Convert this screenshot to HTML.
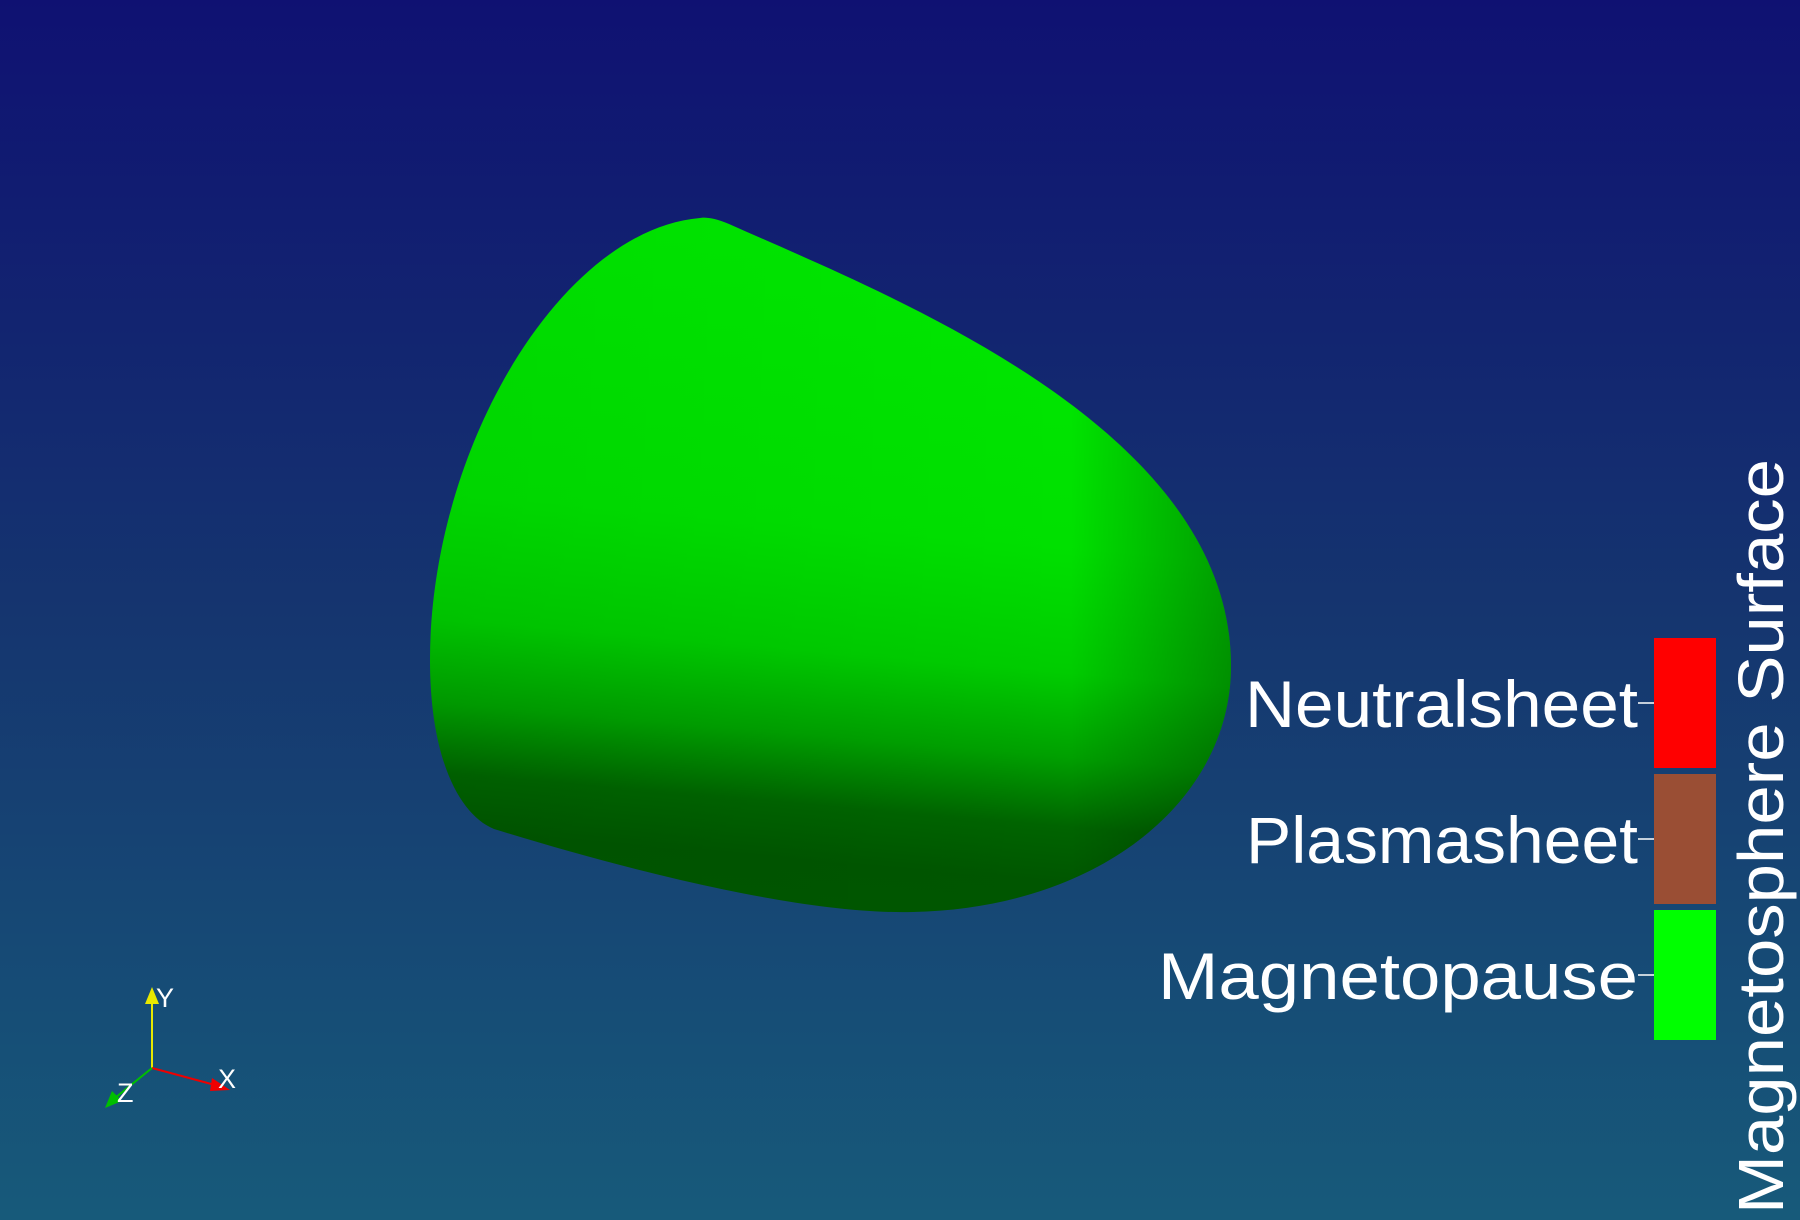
<!DOCTYPE html>
<html><head><meta charset="utf-8"><style>
html,body{margin:0;padding:0;width:1800px;height:1220px;overflow:hidden}
</style></head><body>
<svg id="chart" width="1800" height="1220" viewBox="0 0 1800 1220" xmlns="http://www.w3.org/2000/svg" font-family="Liberation Sans, sans-serif">
<defs>
<linearGradient id="bg" x1="0" y1="0" x2="0" y2="1">
<stop offset="0" stop-color="#0f1172"/><stop offset="0.5" stop-color="#15356f"/><stop offset="1" stop-color="#175a7a"/>
</linearGradient>
<linearGradient id="body" x1="0.1" y1="0" x2="0" y2="1">
<stop offset="0" stop-color="#00e800"/><stop offset="0.4" stop-color="#00e000"/><stop offset="0.58" stop-color="#00cc00"/><stop offset="0.7" stop-color="#00a000"/><stop offset="0.8" stop-color="#006400"/><stop offset="0.88" stop-color="#005600"/><stop offset="1" stop-color="#005800"/>
</linearGradient>
<linearGradient id="edge" x1="0" y1="0" x2="1" y2="0">
<stop offset="0" stop-color="#000" stop-opacity="0.05"/><stop offset="0.8" stop-color="#000" stop-opacity="0"/><stop offset="1" stop-color="#000" stop-opacity="0.3"/>
</linearGradient>
</defs>
<rect width="1800" height="1220" fill="url(#bg)"/>
<g>
<path d="M700 218 C560 230 430 450 430 660 C430 760 460 815 494 829 C620 868 800 915 913 912 C1100 908 1231 800 1231 666 C1231 430 900 300 729 224 C715 218 705 217 700 218 Z" fill="url(#body)"/>
<path d="M700 218 C560 230 430 450 430 660 C430 760 460 815 494 829 C620 868 800 915 913 912 C1100 908 1231 800 1231 666 C1231 430 900 300 729 224 C715 218 705 217 700 218 Z" fill="url(#edge)"/>
</g>
<g id="legend"></g>
<text transform="translate(1783,1214) rotate(-90)" font-size="64" fill="#fff" textLength="755" lengthAdjust="spacingAndGlyphs">Magnetosphere Surface</text>
<g>
<line x1="152" y1="1068" x2="152" y2="1000" stroke="#e8e800" stroke-width="2"/>
<polygon points="152,987 145,1004 159,1004" fill="#e8e800"/>
<line x1="152" y1="1068" x2="215" y2="1085" stroke="#e00" stroke-width="2"/>
<polygon points="230,1090 212,1078 210,1091" fill="#e00"/>
<line x1="152" y1="1068" x2="115" y2="1098" stroke="#00c000" stroke-width="2"/>
<polygon points="105,1108 112,1091 122,1101" fill="#00c000"/>
<text x="156" y="1007" font-size="27" fill="#fff">Y</text>
<text x="218" y="1088" font-size="27" fill="#fff">X</text>
<text x="117" y="1102" font-size="27" fill="#fff">Z</text>
</g>
</svg>
<script>
const categories = ["Neutralsheet", "Plasmasheet", "Magnetopause"];
const colors = ["#ff0000", "#9a4e34", "#00ff00"];
const textWidths = [393, 392, 480];
(function(){
  const g = document.getElementById('legend');
  const ns = 'http://www.w3.org/2000/svg';
  const top = 638, bottom = 1040, gap = 6;
  const h = (bottom - top - gap * (categories.length - 1)) / categories.length;
  categories.forEach((c, i) => {
    const y = top + i * (h + gap);
    const r = document.createElementNS(ns, 'rect');
    
    
    r.setAttribute('x', 1654); r.setAttribute('y', y);
    r.setAttribute('width', 62); r.setAttribute('height', h);
    r.setAttribute('fill', colors[i]);
    g.appendChild(r);
    const l = document.createElementNS(ns, 'line');
    
    
    l.setAttribute('x1', 1638); l.setAttribute('x2', 1654);
    l.setAttribute('y1', y + h / 2); l.setAttribute('y2', y + h / 2);
    l.setAttribute('stroke', '#fff'); l.setAttribute('stroke-width', 1.5);
    g.appendChild(l);
    const t = document.createElementNS(ns, 'text');
    
    
    t.setAttribute('x', 1638); t.setAttribute('y', y + h / 2 + 24);
    t.setAttribute('text-anchor', 'end');
    t.setAttribute('font-size', 66);
    t.setAttribute('fill', '#fff');
    t.setAttribute('textLength', textWidths[i]);
    t.setAttribute('lengthAdjust', 'spacingAndGlyphs');
    t.textContent = c;
    g.appendChild(t);
  });
})();
</script>
</body></html>
